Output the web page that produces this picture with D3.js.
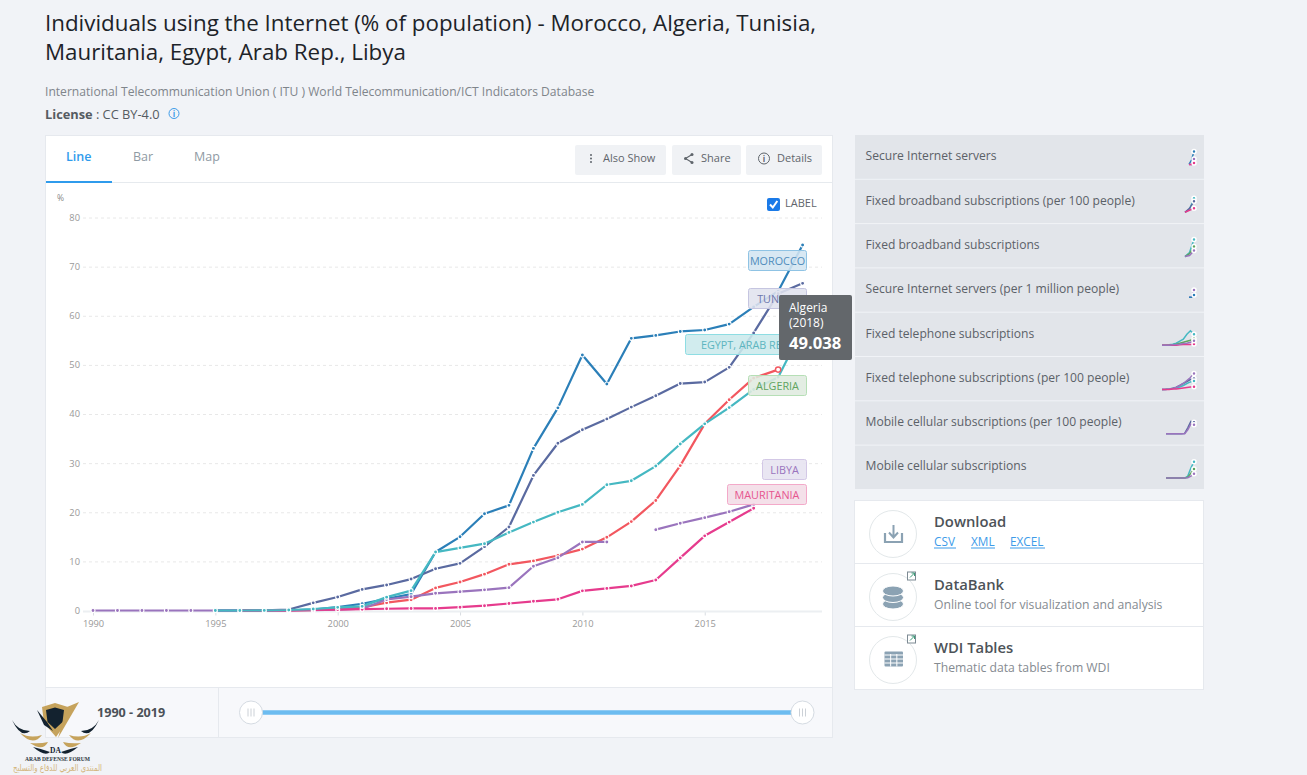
<!DOCTYPE html>
<html>
<head>
<meta charset="utf-8">
<script src="https://cdn.jsdelivr.net/npm/d3@7"></script>
<style>
html, body { margin: 0; padding: 0; width: 1307px; height: 775px; overflow: hidden; background: #f1f3f7; font-family: "Open Sans", sans-serif; }
svg { position: absolute; left: 0; top: 0; }
text { font-family: "Open Sans", sans-serif; }
</style>
</head>
<body>
<svg id="page" width="1307" height="775"></svg>
<script>
// chart data
var years = d3.range(1990, 2020);
var seriesNames = ["Morocco", "Tunisia", "Algeria", "Libya", "Mauritania", "Egypt"];
var morocco = [null,null,null,null,null,0,0,0.01,0.05,0.2,0.7,1.37,2.37,3.35,11.9,15.0,19.7,21.4,33.0,41.25,52,46.1,55.4,56,56.8,57.1,58.3,61.8,65,74.4];
var tunisia = [null,null,null,null,null,0,0,0.01,0.2,1.56,2.75,4.3,5.2,6.4,8.5,9.6,13.0,17.0,27.5,34.05,36.8,39.0,41.4,43.7,46.2,46.5,49.5,56.5,64.5,66.6];
var algeria = [null,null,null,null,null,null,0,0,0.02,0.05,0.49,0.65,1.59,2.2,4.6,5.8,7.4,9.4,10.1,11.2,12.5,14.9,18.1,22.4,29.5,38.0,42.9,47.3,49.038,null];
var libya = [0,0,0,0,0,0,0,0,0.02,0.05,0.19,0.36,2.24,2.81,3.5,3.83,4.2,4.65,9.0,10.75,13.95,13.95,null,16.45,17.75,18.9,20.1,21.6,null,null];
var mauritania = [null,null,null,null,null,null,0,0,0,0.1,0.19,0.26,0.36,0.42,0.43,0.67,0.98,1.43,1.87,2.28,4.0,4.5,5.0,6.2,10.7,15.2,18.0,20.8,null,null];
var egypt = [null,null,null,null,null,0,0,0.02,0.1,0.3,0.64,0.84,2.72,4.04,11.9,12.75,13.6,15.9,18.0,20.0,21.6,25.6,26.4,29.4,33.9,38.0,41.3,45,47.5,57.3];
var seriesValues = [morocco, tunisia, algeria, libya, mauritania, egypt];
var seriesColors = ["#2b7fb8", "#5a6aa0", "#f2575f", "#9a74bd", "#e63b8d", "#45b8c2"];

var yTicks = [0, 10, 20, 30, 40, 50, 60, 70, 80];
var xTicks = [1990, 1995, 2000, 2005, 2010, 2015];

var labelNames = ["MOROCCO", "TUNISIA", "EGYPT, ARAB REP.", "ALGERIA", "LIBYA", "MAURITANIA"];
var labelTops = [250, 288, 334, 375, 459, 484];
var labelWidths = [59, 59, 122, 59, 45, 80];
var labelFills = ["#d3e5f1", "#e0e2ee", "#cbe9ec", "#dfeadf", "#e6e3f0", "#f2dce6"];
var labelStrokes = ["#8fc3e4", "#c5c5e0", "#8edde3", "#b6dfb6", "#d3c8e6", "#f3a9c9"];
var labelTexts = ["#4f8cbc", "#6d78ad", "#5db5bf", "#5fa45f", "#9a74bd", "#e6558f"];

var otherIndicators = ["Secure Internet servers", "Fixed broadband subscriptions (per 100 people)", "Fixed broadband subscriptions", "Secure Internet servers (per 1 million people)", "Fixed telephone subscriptions", "Fixed telephone subscriptions (per 100 people)", "Mobile cellular subscriptions (per 100 people)", "Mobile cellular subscriptions"];

// little previews at the end of each row: [color, values]
var sparkColors = { blue: "#2b7fb8", teal: "#45b8c2", purple: "#9a74bd", pink: "#e63b8d", green: "#5fa45f", slate: "#5a6aa0", red: "#f2575f" };
var sparkSeries = [
  [["blue", [0.18, 0.4, 0.82]], ["purple", [0.18, 0.18, 0.45]], ["pink", [0.18, 0.18, 0.25]]],
  [["teal", [0, 0.15, 0.7]], ["slate", [0, 0.2, 0.55]], ["pink", [0, 0.1, 0.2]]],
  [["teal", [0, 0.2, 0.85]], ["green", [0, 0.15, 0.5]], ["purple", [0, 0.05, 0.3]]],
  [["purple", [0.18, 0.18, 0.55]], ["blue", [0.18, 0.18, 0.3]]],
  [["teal", [0, 0, 0.02, 0.05, 0.1, 0.2, 0.3, 0.55, 0.72, 0.55]], ["green", [0, 0, 0, 0.02, 0.05, 0.1, 0.15, 0.2, 0.25, 0.32]], ["pink", [0, 0, 0, 0, 0, 0.02, 0.03, 0.03, 0.04, 0.06]], ["purple", [0, 0, 0, 0.02, 0.03, 0.05, 0.08, 0.1, 0.15, 0.22]]],
  [["slate", [0, 0.01, 0.03, 0.06, 0.12, 0.2, 0.3, 0.4, 0.5, 0.55]], ["teal", [0, 0, 0.02, 0.05, 0.08, 0.12, 0.2, 0.3, 0.38, 0.42]], ["purple", [0, 0, 0.02, 0.05, 0.1, 0.2, 0.3, 0.45, 0.6, 0.8]], ["pink", [0, 0, 0, 0.02, 0.03, 0.05, 0.08, 0.1, 0.12, 0.14]]],
  [["slate", [0, 0, 0, 0, 0, 0, 0.02, 0.3, 0.62, 0.58]], ["purple", [0, 0, 0, 0, 0, 0, 0, 0.2, 0.5, 0.45]]],
  [["teal", [0, 0, 0, 0, 0, 0, 0, 0.1, 0.5, 0.82]], ["green", [0, 0, 0, 0, 0, 0, 0, 0.05, 0.25, 0.45]], ["purple", [0, 0, 0, 0, 0, 0, 0, 0.02, 0.1, 0.22]]]
];
var sparkLeft = [1189, 1185, 1185, 1189, 1162, 1162, 1166, 1166];

var toolLinks = ["CSV", "XML", "EXCEL"];
var toolTitles = ["Download", "DataBank", "WDI Tables"];
var toolNotes = [null, "Online tool for visualization and analysis", "Thematic data tables from WDI"];

var page = d3.select("#page");

function addText(parent, x, y, str, size, color, weight) {
  return parent.append("text")
    .attr("x", x).attr("y", y)
    .attr("font-size", size + "px")
    .attr("fill", color)
    .attr("font-weight", weight || 400)
    .text(str);
}

// header
addText(page, 45, 31, "Individuals using the Internet (% of population) - Morocco, Algeria, Tunisia,", 22.35, "#1d2329", 500);
addText(page, 45, 60, "Mauritania, Egypt, Arab Rep., Libya", 22.35, "#1d2329", 500);
addText(page, 45, 95.5, "International Telecommunication Union ( ITU ) World Telecommunication/ICT Indicators Database", 12.12, "#7f858b");
var lic = addText(page, 45, 118.5, "", 12.8, "#555b61");
lic.append("tspan").attr("font-weight", 700).text("License");
lic.append("tspan").text(" : CC BY-4.0");
page.append("circle").attr("cx", 174).attr("cy", 113.5).attr("r", 5).attr("fill", "none").attr("stroke", "#3d9be9");
addText(page, 174, 116.5, "i", 8, "#3d9be9", 700).attr("text-anchor", "middle");

// chart card
page.append("rect").attr("x", 45.5).attr("y", 135.5).attr("width", 787).attr("height", 602)
  .attr("fill", "#fff").attr("stroke", "#e6e9ee");
page.append("line").attr("x1", 46).attr("x2", 832).attr("y1", 182.5).attr("y2", 182.5).attr("stroke", "#e6eaee");
page.append("rect").attr("x", 46).attr("y", 181).attr("width", 66).attr("height", 2).attr("fill", "#2f9bec");
addText(page, 66, 161, "Line", 12.5, "#2f9bec", 600);
addText(page, 133, 161, "Bar", 12.5, "#8f9aa3");
addText(page, 194, 161, "Map", 12.5, "#8f9aa3");

var buttonNames = ["Also Show", "Share", "Details"];
var buttonLeft = [575, 672, 746];
var buttonWidths = [91, 69, 76];
var buttonText = [603, 701, 777];
buttonNames.forEach(function(name, i) {
  page.append("rect").attr("x", buttonLeft[i]).attr("y", 145).attr("width", buttonWidths[i]).attr("height", 30)
    .attr("rx", 2).attr("fill", "#f0f2f5");
  addText(page, buttonText[i], 162, name, 11, "#5f656b");
});
// button icons
page.append("g").selectAll("circle").data([-3.5, 0, 3.5]).enter().append("circle")
  .attr("cx", 591).attr("cy", function(d) { return 158.5 + d; }).attr("r", 1).attr("fill", "#5f656b");
page.append("path").attr("d", "M692,154.5L685.5,158.5L692,162.5").attr("fill", "none").attr("stroke", "#5f656b").attr("stroke-width", 1.1);
page.append("g").selectAll("circle").data([[692, 154.5], [685.5, 158.5], [692, 162.5]]).enter().append("circle")
  .attr("cx", function(d) { return d[0]; }).attr("cy", function(d) { return d[1]; }).attr("r", 1.5).attr("fill", "#5f656b");
page.append("circle").attr("cx", 764).attr("cy", 158.5).attr("r", 5.5).attr("fill", "none").attr("stroke", "#5f656b");
addText(page, 764, 161.5, "i", 8, "#5f656b", 700).attr("text-anchor", "middle");

// checkbox
page.append("rect").attr("x", 767).attr("y", 198).attr("width", 13).attr("height", 13).attr("rx", 2).attr("fill", "#1a7ae8");
page.append("path").attr("d", "M770,204.5L772.8,207.5L777.3,201").attr("fill", "none").attr("stroke", "#fff").attr("stroke-width", 2);
addText(page, 785, 207, "LABEL", 11, "#5f656b");

// scales
var x = d3.scaleLinear().domain([1990, 2019]).range([93, 802.6]);
var y = d3.scaleLinear().domain([0, 80]).range([610.5, 217.5]);

var chart = page.append("g").attr("class", "chart");
addText(chart, 57, 201, "%", 8.5, "#888");

var yAxis = chart.append("g").attr("class", "y-axis")
  .attr("transform", "translate(83,0)")
  .call(d3.axisLeft(y).tickValues(yTicks).tickSize(-739).tickPadding(3));
yAxis.select(".domain").remove();
yAxis.selectAll("line").attr("stroke", "#e8e8e8").attr("stroke-dasharray", "3,3");
yAxis.selectAll("text").attr("font-size", "9.3px").attr("fill", "#999").style("font-family", "Open Sans");
yAxis.selectAll(".tick").filter(function(d) { return d === 0; }).select("line").remove();

var xAxis = chart.append("g").attr("class", "x-axis")
  .attr("transform", "translate(0,611.5)")
  .call(d3.axisBottom(x).tickValues(xTicks).tickFormat(d3.format("d")).tickSize(4).tickPadding(5));
xAxis.select(".domain").remove();
xAxis.selectAll("line").attr("stroke", "#d9dde2");
xAxis.selectAll("text").attr("font-size", "9.3px").attr("fill", "#999").style("font-family", "Open Sans");
chart.append("line").attr("x1", 83).attr("x2", 822).attr("y1", 611.5).attr("y2", 611.5).attr("stroke", "#eceff2").attr("stroke-width", 2);

var lineGen = d3.line()
  .defined(function(d) { return d !== null; })
  .x(function(d, i) { return x(years[i]); })
  .y(function(d) { return y(d); });

seriesValues.forEach(function(vals, k) {
  var g = chart.append("g").attr("class", "series").attr("data-name", seriesNames[k]);
  g.append("path").attr("d", lineGen(vals))
    .attr("fill", "none").attr("stroke", seriesColors[k]).attr("stroke-width", 2.2).attr("stroke-linejoin", "round");
  var pts = [];
  vals.forEach(function(v, i) { if (v !== null) pts.push({ year: years[i], value: v }); });
  g.selectAll("circle").data(pts).enter().append("circle")
    .attr("cx", function(d) { return x(d.year); })
    .attr("cy", function(d) { return y(d.value); })
    .attr("r", 2)
    .attr("fill", seriesColors[k])
    .attr("stroke", "#fff").attr("stroke-width", 1.1);
});

// hovered point
chart.append("circle")
  .attr("cx", x(2018)).attr("cy", y(algeria[28]))
  .attr("r", 2.6).attr("fill", "#fff").attr("stroke", seriesColors[2]).attr("stroke-width", 1.4);

// series labels, right edge lines up at 807
var labels = chart.append("g").attr("class", "labels");
labelNames.forEach(function(name, i) {
  var w = labelWidths[i];
  labels.append("rect")
    .attr("x", 807 - w + 0.5).attr("y", labelTops[i] + 0.5)
    .attr("width", w - 1).attr("height", 20).attr("rx", 2)
    .attr("fill", labelFills[i]).attr("fill-opacity", 0.88)
    .attr("stroke", labelStrokes[i]);
  addText(labels, 807 - w / 2, labelTops[i] + 14.5, name, 10.8, labelTexts[i]).attr("text-anchor", "middle");
});

// tooltip
var tip = page.append("g").attr("class", "tooltip");
tip.append("rect").attr("x", 779).attr("y", 295).attr("width", 73).attr("height", 65).attr("rx", 2).attr("fill", "#63676b");
addText(tip, 789, 312, "Algeria", 12, "#fff");
addText(tip, 789, 327, "(2018)", 12, "#fff");
addText(tip, 789, 349, d3.format(".3f")(algeria[28]), 16.6, "#fff", 700);

// range slider
page.append("rect").attr("x", 46).attr("y", 688).attr("width", 786).attr("height", 49).attr("fill", "#f7f8fb");
page.append("line").attr("x1", 46).attr("x2", 832).attr("y1", 687.5).attr("y2", 687.5).attr("stroke", "#e6e9ee");
page.append("line").attr("x1", 218.5).attr("x2", 218.5).attr("y1", 688).attr("y2", 737).attr("stroke", "#e6e9ee");
addText(page, 97, 717, years[0] + " - " + years[years.length - 1], 12.6, "#4b5157", 700);
var rangeX = d3.scaleLinear().domain([1990, 2019]).range([251, 802.5]);
page.append("line").attr("x1", rangeX(1990)).attr("x2", rangeX(2019)).attr("y1", 712.5).attr("y2", 712.5)
  .attr("stroke", "#6cbcf0").attr("stroke-width", 4.5);
[1990, 2019].forEach(function(yr) {
  var h = page.append("g").attr("transform", "translate(" + rangeX(yr) + ",712.5)");
  h.append("circle").attr("r", 11.5).attr("fill", "#fff").attr("stroke", "#d5dbe2");
  h.selectAll("line").data([-3, 0, 3]).enter().append("line")
    .attr("x1", function(d) { return d; }).attr("x2", function(d) { return d; })
    .attr("y1", -4).attr("y2", 4).attr("stroke", "#ccd1d7");
});

// right column list
var rowH = 44.3;
var listTop = 135;
page.append("rect").attr("x", 855).attr("y", listTop).attr("width", 349).attr("height", 354).attr("fill", "#e2e5ea");
otherIndicators.forEach(function(name, i) {
  var top = listTop + i * rowH;
  if (i > 0) {
    page.append("line").attr("x1", 855).attr("x2", 1204).attr("y1", top).attr("y2", top).attr("stroke", "#f1f3f7");
  }
  addText(page, 865.5, top + 25.3, name, 12.1, "#5b6168");
  var sx = d3.scaleLinear().domain([0, sparkSeries[i][0][1].length - 1]).range([sparkLeft[i], 1194]);
  var sy = d3.scaleLinear().domain([0, 1]).range([top + 33, top + 13]);
  var sl = d3.line().x(function(d, j) { return sx(j); }).y(function(d) { return sy(d); });
  sparkSeries[i].forEach(function(s) {
    page.append("path").attr("d", sl(s[1])).attr("fill", "none")
      .attr("stroke", sparkColors[s[0]]).attr("stroke-width", 1.5);
  });
  sparkSeries[i].forEach(function(s) {
    page.append("circle").attr("cx", sx(s[1].length - 1)).attr("cy", sy(s[1][s[1].length - 1]))
      .attr("r", 2).attr("fill", sparkColors[s[0]]).attr("stroke", "#fff").attr("stroke-width", 1.5);
  });
});

// tools box
var toolH = 63;
var toolTop = 500.5;
page.append("rect").attr("x", 854.5).attr("y", toolTop).attr("width", 349).attr("height", 189).attr("fill", "#fff").attr("stroke", "#e6e9ee");
toolTitles.forEach(function(name, i) {
  var top = toolTop + i * toolH;
  if (i > 0) {
    page.append("line").attr("x1", 855).attr("x2", 1203).attr("y1", top).attr("y2", top).attr("stroke", "#e6e9ee");
  }
  page.append("circle").attr("cx", 893).attr("cy", top + 33.5).attr("r", 23.5).attr("fill", "#fff").attr("stroke", "#e3e8ea");
  addText(page, 934, top + 26, name, 14.8, "#4d5358", 600);
  if (toolNotes[i]) addText(page, 934, top + 45, toolNotes[i], 12.2, "#858b91");
  if (i > 0) {
    // external link mark
    var ex = page.append("g").attr("transform", "translate(" + 907.5 + "," + (top + 8.5) + ")");
    ex.append("rect").attr("width", 8).attr("height", 8).attr("fill", "#fff").attr("stroke", "#7d8a93");
    ex.append("path").attr("d", "M2.5,5.5L7,1M4,1H7V4").attr("fill", "none").attr("stroke", "#3c9a78").attr("stroke-width", 1);
  }
});
var linkX = [934, 971, 1010];
var linkW = [22, 24, 35];
toolLinks.forEach(function(name, i) {
  addText(page, linkX[i], toolTop + 45.5, name, 11.8, "#3d9be9");
  page.append("line").attr("x1", linkX[i]).attr("x2", linkX[i] + linkW[i]).attr("y1", toolTop + 47.5).attr("y2", toolTop + 47.5).attr("stroke", "#3d9be9");
});
var iconColor = "#8ba2b3";
// download icon
page.append("path").attr("d", "M885,533V542H902V533").attr("fill", "none").attr("stroke", iconColor).attr("stroke-width", 2.2);
page.append("path").attr("d", "M893.5,525V537M889,532.5L893.5,537.5L898,532.5").attr("fill", "none").attr("stroke", iconColor).attr("stroke-width", 2);
// database icon, bottom disc first so the top one stays whole
[2, 1, 0].forEach(function(n) {
  page.append("ellipse").attr("cx", 893).attr("cy", 591 + n * 6.5).attr("rx", 10.5).attr("ry", 5).attr("fill", iconColor).attr("stroke", "#fff").attr("stroke-width", 1);
});
// table icon
page.append("rect").attr("x", 884.5).attr("y", 651.5).attr("width", 18.5).attr("height", 15).attr("rx", 1).attr("fill", iconColor);
[1, 2].forEach(function(n) {
  page.append("line").attr("x1", 884.5 + n * 6.17).attr("x2", 884.5 + n * 6.17).attr("y1", 654).attr("y2", 666.5).attr("stroke", "#fff");
});
[0, 1, 2].forEach(function(n) {
  page.append("line").attr("x1", 884.5).attr("x2", 903).attr("y1", 655 + n * 4).attr("y2", 655 + n * 4).attr("stroke", "#fff");
});

// forum watermark, bottom left
var logo = page.append("g").attr("class", "logo");
var gold = "#c6a35c";
var navy = "#13222f";
logo.append("path").attr("d", "M42,707L55,703L68,707L66,723L56,737L44,723Z").attr("fill", gold);
logo.append("path").attr("d", "M46,710L55,707.5L64,710L62.5,722L55,729L47.5,722Z").attr("fill", navy);
logo.append("path").attr("d", "M67,707L79,702L58,738Z").attr("fill", gold);
logo.append("path").attr("d", "M37,710L47,722L53,731L44,725Z").attr("fill", navy);
// feathers: start, control, end, on the left side, then mirrored
var feathers = [[12, 720, 18, 731, 30, 731, navy], [20, 733, 30, 739, 42, 735, gold], [30, 743, 40, 744, 48, 742, gold], [33, 747, 42, 749, 50, 752, navy]];
var midX = 55.5;
[1, -1].forEach(function(side) {
  feathers.forEach(function(f) {
    var m = function(v) { return midX + side * (v - midX); };
    logo.append("path")
      .attr("d", "M" + m(f[0]) + "," + f[1] + "Q" + m(f[2]) + "," + f[3] + " " + m(f[4]) + "," + f[5] + "Q" + m(f[2] + 3) + "," + (f[3] + 8) + " " + m(f[0]) + "," + f[1] + "Z")
      .attr("fill", f[6]);
  });
});
logo.append("text").attr("x", 55.5).attr("y", 753).attr("text-anchor", "middle")
  .attr("font-size", "7.5px").attr("font-weight", 700).attr("fill", navy).style("font-family", "Liberation Serif").text("DA");
logo.append("text").attr("x", 25).attr("y", 760.5).attr("textLength", 65).attr("lengthAdjust", "spacingAndGlyphs")
  .attr("font-size", "7px").attr("font-weight", 700).attr("fill", "#2c3640").style("font-family", "Liberation Serif").text("ARAB DEFENSE FORUM");
logo.append("text").attr("x", 13).attr("y", 771).attr("textLength", 89).attr("lengthAdjust", "spacingAndGlyphs")
  .attr("font-size", "9.5px").attr("fill", "#d3b57c").style("font-family", "DejaVu Sans").text("المنتدى العربي للدفاع والتسليح");
</script>
</body>
</html>
